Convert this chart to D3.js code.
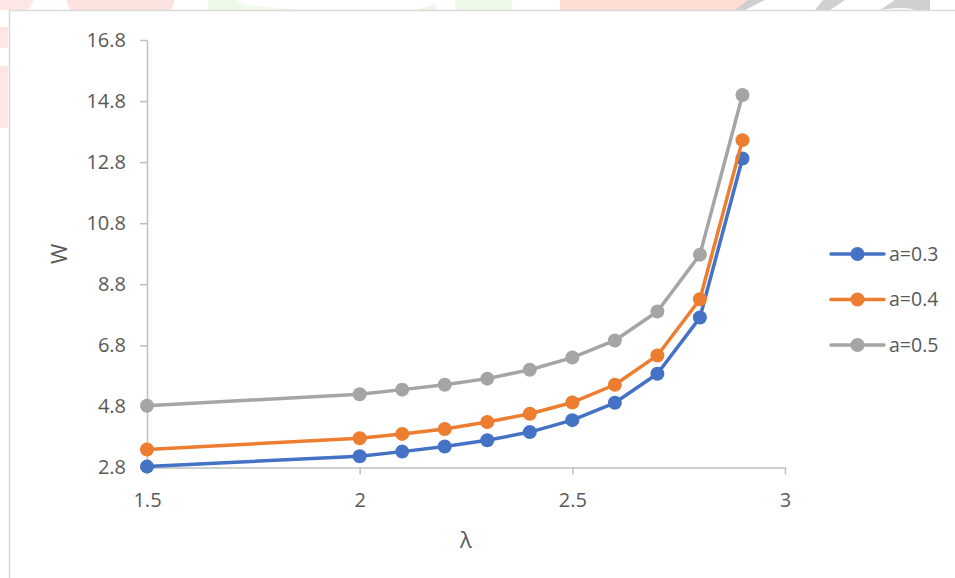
<!DOCTYPE html>
<html>
<head>
<meta charset="utf-8">
<script src="https://cdn.jsdelivr.net/npm/d3@7"></script>
<style>
  html, body { margin: 0; padding: 0; background: #ffffff; }
  svg { display: block; }
  text { font-family: "Open Sans", "Liberation Sans", sans-serif; fill: #595959; }
</style>
</head>
<body>
<svg id="chart" width="955" height="578"></svg>
<script>
// λ values on the horizontal axis
const lambdaVals = [1.5, 2.0, 2.1, 2.2, 2.3, 2.4, 2.5, 2.6, 2.7, 2.8, 2.9];
// W for each value of a
const wA03 = [2.83, 3.17, 3.32, 3.49, 3.69, 3.96, 4.35, 4.92, 5.87, 7.71, 12.92];
const wA04 = [3.39, 3.76, 3.90, 4.06, 4.29, 4.56, 4.93, 5.51, 6.47, 8.31, 13.52];
const wA05 = [4.82, 5.20, 5.35, 5.51, 5.71, 6.00, 6.40, 6.96, 7.91, 9.77, 15.00];
const seriesNames = ["a=0.3", "a=0.4", "a=0.5"];
const seriesColors = ["#4472C4", "#ED7D31", "#A5A5A5"];
const xTicks = [1.5, 2, 2.5, 3];
const yTicks = [2.8, 4.8, 6.8, 8.8, 10.8, 12.8, 14.8, 16.8];

const series = [wA03, wA04, wA05].map((vals, i) => ({
  name: seriesNames[i],
  color: seriesColors[i],
  points: vals.map((w, j) => ({ x: lambdaVals[j], y: w }))
}));

const svg = d3.select("#chart");

// faint page artwork bleeding in around the chart frame
const deco = svg.append("g");
[
  { d: "M0,0 H34 L28,10 H0 Z", c: "#fde6e3" },
  { d: "M66,0 H174 L172,10 H70 Z", c: "#fde3df" },
  { d: "M208,0 H236 L250,10 H208 Z", c: "#eef8e6" },
  { d: "M236,4 L300,10 H250 Z", c: "#f3faee" },
  { d: "M415,10 L435,4 H436 V10 Z", c: "#eef8e6" },
  { d: "M455,0 H512 V10 H455 Z", c: "#eef8e6" },
  { d: "M560,0 H750 L738,10 H560 Z", c: "#fedcd4" },
  { d: "M748,0 H765 L745,10 H735 Z", c: "#cfcfcf" },
  { d: "M823,0 H845 L830,10 H815 Z", c: "#cfcfcf" },
  { d: "M895,0 H930 V10 H915 Q905,6 880,10 Z", c: "#cfcfcf" },
  { d: "M0,27 H8 V48 H0 Z", c: "#fde6e3" },
  { d: "M0,66 H8 V128 H0 Z", c: "#fde6e3" }
].forEach(s => deco.append("path").attr("d", s.d).attr("fill", s.c));

// chart area frame
svg.append("rect")
  .attr("x", 9.5).attr("y", 10.5)
  .attr("width", 1000).attr("height", 1000)
  .attr("fill", "#ffffff")
  .attr("stroke", "#d9d9d9").attr("stroke-width", 1.5);

const x = d3.scaleLinear().domain([1.5, 3]).range([147, 785]);
const y = d3.scaleLinear().domain([2.8, 16.8]).range([467.5, 40]);

const axisColor = "#bfbfbf";

// vertical axis
const gy = svg.append("g")
  .attr("transform", `translate(${x(1.5)},0)`)
  .call(d3.axisLeft(y).tickValues(yTicks).tickSize(7).tickSizeOuter(0).tickPadding(14)
    .tickFormat(d3.format(".1f")));
gy.select(".domain").attr("stroke", axisColor).attr("stroke-width", 1.5);
gy.selectAll(".tick line").attr("stroke", axisColor).attr("stroke-width", 1.5);
gy.selectAll(".tick text").attr("font-size", 20).attr("fill", "#595959");

// horizontal axis
const gx = svg.append("g")
  .attr("transform", `translate(0,${y(2.8)})`)
  .call(d3.axisBottom(x).tickValues(xTicks).tickSize(7).tickSizeOuter(0).tickPadding(18)
    .tickFormat(d => d3.format("")(d)));
gx.select(".domain").attr("stroke", axisColor).attr("stroke-width", 1.5);
gx.selectAll(".tick line").attr("stroke", axisColor).attr("stroke-width", 1.5);
gx.selectAll(".tick text").attr("font-size", 20).attr("fill", "#595959");

// axis titles
svg.append("text")
  .attr("x", 466).attr("y", 548)
  .attr("text-anchor", "middle")
  .attr("font-size", 22)
  .text("λ");
svg.append("text")
  .attr("transform", `translate(67,${(y(2.8) + y(16.8)) / 2}) rotate(-90)`)
  .attr("text-anchor", "middle")
  .attr("font-size", 22)
  .text("W");

// series lines and markers
const line = d3.line().x(d => x(d.x)).y(d => y(d.y));
const plot = svg.append("g");
series.forEach(s => {
  plot.append("path")
    .datum(s.points)
    .attr("d", line)
    .attr("fill", "none")
    .attr("stroke", s.color)
    .attr("stroke-width", 3.5)
    .attr("stroke-linejoin", "round")
    .attr("stroke-linecap", "round");
  plot.selectAll(null)
    .data(s.points)
    .join("circle")
    .attr("cx", d => x(d.x))
    .attr("cy", d => y(d.y))
    .attr("r", 7)
    .attr("fill", s.color);
});

// legend
const legend = svg.append("g");
series.forEach((s, i) => {
  const ly = 254 + i * 45.5;
  const g = legend.append("g").attr("transform", `translate(0,${ly})`);
  g.append("line")
    .attr("x1", 831).attr("x2", 884)
    .attr("stroke", s.color).attr("stroke-width", 3.5)
    .attr("stroke-linecap", "round");
  g.append("circle").attr("cx", 857.5).attr("r", 7).attr("fill", s.color);
  g.append("text")
    .attr("x", 889).attr("y", 0).attr("dy", "0.35em")
    .attr("font-size", 19.5)
    .text(s.name);
});
</script>
</body>
</html>
